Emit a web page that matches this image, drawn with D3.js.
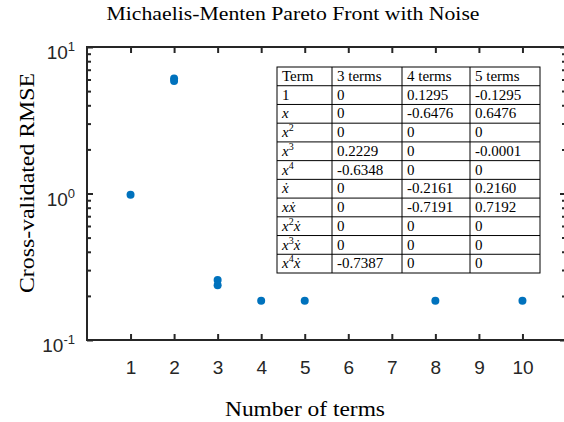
<!DOCTYPE html>
<html>
<head>
<meta charset="utf-8">
<script src="https://cdn.jsdelivr.net/npm/d3@7"></script>
<style>
  body { margin: 0; background: #fff; }
  svg { display: block; }
  .serif { font-family: "Liberation Serif", "DejaVu Serif", serif; fill: #000; }
  .tick text { font-family: "Liberation Sans", Arial, sans-serif; font-size: 19px; fill: #262626; }
</style>
</head>
<body>
<svg width="564" height="422"></svg>
<script>
// pareto front points (number of terms, cv rmse)
var nTerms = [1, 2, 2, 3, 3, 4, 5, 8, 10];
var cvRmse = [0.98, 6.1, 5.85, 0.257, 0.236, 0.185, 0.185, 0.185, 0.185];

var xTicks = [1, 2, 3, 4, 5, 6, 7, 8, 9, 10];
var yMajor = [0.1, 1, 10];
var yExp = ["-1", "0", "1"];

// coefficient table
var tableHeader = ["Term", "3 terms", "4 terms", "5 terms"];
var termNames = ["1", "x", "x^2", "x^3", "x^4", "ẋ", "xẋ", "x^2ẋ", "x^3ẋ", "x^4ẋ"];
var coef3 = ["0", "0", "0", "0.2229", "-0.6348", "0", "0", "0", "0", "-0.7387"];
var coef4 = ["0.1295", "-0.6476", "0", "0", "0", "-0.2161", "-0.7191", "0", "0", "0"];
var coef5 = ["-0.1295", "0.6476", "0", "-0.0001", "0", "0.2160", "0.7192", "0", "0", "0"];

var svg = d3.select("svg");
var plotL = 87, plotR = 566, plotT = 47, plotB = 340;
var axisColor = "#262626";

var x = d3.scaleLinear().domain([0, 11]).range([plotL, plotR]);
var y = d3.scaleLog().domain([0.1, 10]).range([plotB, plotT]);

// minor ticks for the log axis
var yMinor = [];
[0.1, 1].forEach(function(d) {
	for (var k = 2; k <= 9; k++) yMinor.push(d * k);
});

function styleAxis(g) {
	g.select(".domain").remove();
	g.selectAll(".tick line").attr("stroke", axisColor).attr("stroke-width", 2);
}

// bottom axis with labels
svg.append("g")
	.attr("transform", "translate(0," + plotB + ")")
	.call(d3.axisBottom(x).tickValues(xTicks).tickSize(-6).tickPadding(21).tickFormat(d3.format("d")))
	.call(styleAxis);
// top axis
svg.append("g")
	.attr("transform", "translate(0," + plotT + ")")
	.call(d3.axisTop(x).tickValues(xTicks).tickSize(-6).tickFormat(""))
	.call(styleAxis);
// left / right major + minor
[[plotL, d3.axisLeft], [plotR, d3.axisRight]].forEach(function(p) {
	svg.append("g")
		.attr("transform", "translate(" + p[0] + ",0)")
		.call(p[1](y).tickValues(yMajor).tickSize(-6).tickFormat(""))
		.call(styleAxis);
	svg.append("g")
		.attr("transform", "translate(" + p[0] + ",0)")
		.call(p[1](y).tickValues(yMinor).tickSize(-4).tickFormat(""))
		.call(styleAxis);
});

// box
svg.append("rect")
	.attr("x", plotL).attr("y", plotT)
	.attr("width", plotR - plotL).attr("height", plotB - plotT)
	.attr("fill", "none").attr("stroke", axisColor).attr("stroke-width", 2);

// y tick labels 10^k
var ylab = svg.append("g").selectAll("text")
	.data(yMajor)
	.enter().append("text")
	.attr("x", 75)
	.attr("y", function(d) { return y(d) + 12; })
	.attr("text-anchor", "end")
	.style("font-family", "Liberation Sans, Arial, sans-serif")
	.style("font-size", "19px")
	.attr("fill", axisColor);
ylab.append("tspan").text("10");
ylab.append("tspan")
	.attr("dy", -8)
	.style("font-size", "13px")
	.text(function(d, i) { return yExp[i]; });

// points
svg.append("g").selectAll("circle")
	.data(nTerms)
	.enter().append("circle")
	.attr("cx", function(d) { return x(d); })
	.attr("cy", function(d, i) { return y(cvRmse[i]); })
	.attr("r", 4)
	.attr("fill", "#0072BD");

// titles
svg.append("text").attr("class", "serif")
	.attr("x", 293).attr("y", 20)
	.attr("text-anchor", "middle")
	.style("font-size", "19px")
	.attr("textLength", 373).attr("lengthAdjust", "spacingAndGlyphs")
	.text("Michaelis-Menten Pareto Front with Noise");

svg.append("text").attr("class", "serif")
	.attr("x", 305).attr("y", 416)
	.attr("text-anchor", "middle")
	.style("font-size", "20px")
	.attr("textLength", 160).attr("lengthAdjust", "spacingAndGlyphs")
	.text("Number of terms");

svg.append("text").attr("class", "serif")
	.attr("transform", "translate(34,183) rotate(-90)")
	.attr("text-anchor", "middle")
	.style("font-size", "20px")
	.attr("textLength", 220).attr("lengthAdjust", "spacingAndGlyphs")
	.text("Cross-validated RMSE");

// table
var colEdges = [277, 332, 402, 470, 540];
var tableTop = 67, tableBottom = 273;
var rows = d3.range(termNames.length + 1);
var ry = d3.scaleBand().domain(rows).range([tableTop, tableBottom]);

var tbl = svg.append("g");
tbl.append("rect")
	.attr("x", colEdges[0]).attr("y", tableTop)
	.attr("width", colEdges[4] - colEdges[0]).attr("height", tableBottom - tableTop)
	.attr("fill", "#fff").attr("stroke", "#000").attr("stroke-width", 1);
tbl.selectAll("line.h")
	.data(rows.slice(1))
	.enter().append("line")
	.attr("x1", colEdges[0]).attr("x2", colEdges[4])
	.attr("y1", function(d) { return ry(d); })
	.attr("y2", function(d) { return ry(d); })
	.attr("stroke", "#000");
tbl.selectAll("line.v")
	.data(colEdges.slice(1, 4))
	.enter().append("line")
	.attr("x1", function(d) { return d; }).attr("x2", function(d) { return d; })
	.attr("y1", tableTop).attr("y2", tableBottom)
	.attr("stroke", "#000");

var cells = [];
tableHeader.forEach(function(h, c) { cells.push({ r: 0, c: c, t: h, math: false }); });
termNames.forEach(function(t, i) {
	cells.push({ r: i + 1, c: 0, t: t, math: t !== "1" });
	cells.push({ r: i + 1, c: 1, t: coef3[i] });
	cells.push({ r: i + 1, c: 2, t: coef4[i] });
	cells.push({ r: i + 1, c: 3, t: coef5[i] });
});

var ct = tbl.selectAll("text.cell")
	.data(cells)
	.enter().append("text")
	.attr("class", "serif")
	.attr("x", function(d) { return colEdges[d.c] + 5; })
	.attr("y", function(d) { return ry(d.r) + 14; })
	.style("font-size", "15px");

ct.each(function(d) {
	var el = d3.select(this);
	if (!d.math) { el.text(d.t); return; }
	// split "x^2ẋ" into base / superscript pieces
	var parts = d.t.match(/\^\d|[^\^]+/g);
	parts.forEach(function(p) {
		if (p[0] === "^") {
			el.append("tspan").attr("dy", -6).style("font-size", "10px").text(p.slice(1));
		} else {
			var ts = el.append("tspan").style("font-style", "italic").text(p);
			if (el.selectAll("tspan").size() > 1) ts.attr("dy", 6);
		}
	});
});
</script>
</body>
</html>
